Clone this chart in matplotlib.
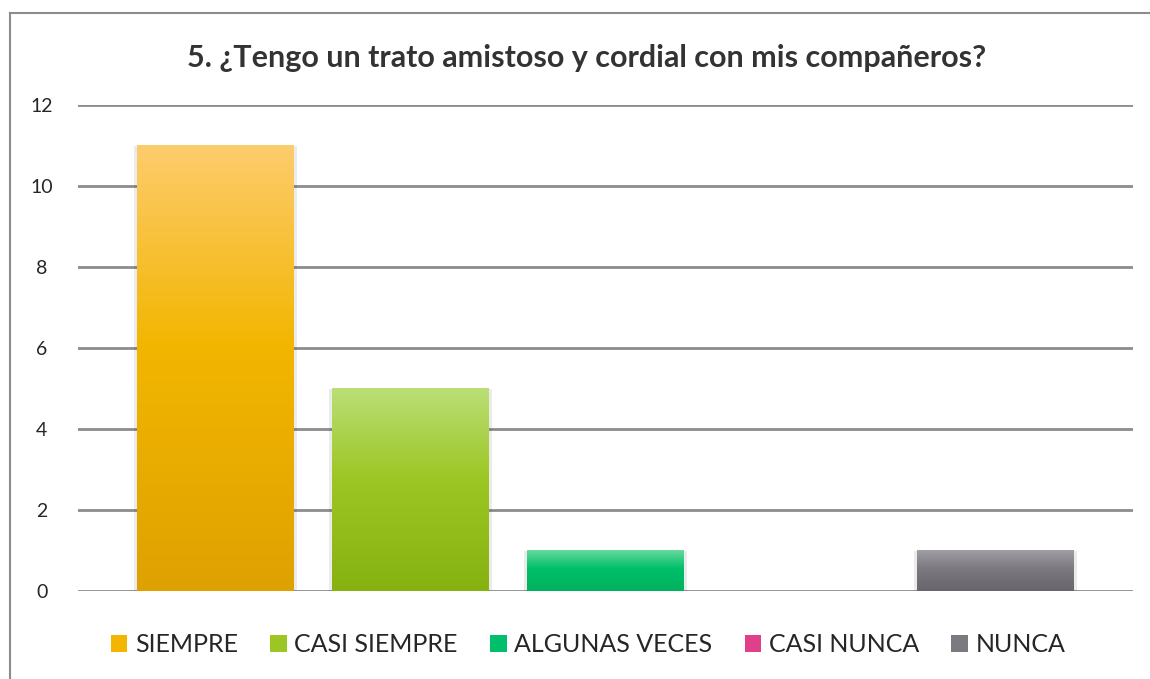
import numpy as np
import matplotlib.pyplot as plt
from matplotlib.colors import LinearSegmentedColormap
from matplotlib.lines import Line2D
from matplotlib.patches import Patch

# Data
title = "5. ¿Tengo un trato amistoso y cordial con mis compañeros?"
series_names = ["SIEMPRE", "CASI SIEMPRE", "ALGUNAS VECES", "CASI NUNCA", "NUNCA"]
values = [11, 5, 1, 0, 1]
y_ticks = [0, 2, 4, 6, 8, 10, 12]

# gradient stops per series: top, middle, bottom
gradients = [
    ["#FDCC6D", "#F2B600", "#DFA100"],
    ["#BADF76", "#9CC623", "#86B211"],
    ["#66DA9C", "#00BF6A", "#00B25D"],
    ["#F27AB0", "#E0408A", "#CF206F"],
    ["#A09EA4", "#7C7A80", "#67656B"],
]
legend_colors = ["#F2B600", "#9CC623", "#00BF6A", "#E0408A", "#7C7A80"]

plt.rcParams["font.family"] = ["Lato", "DejaVu Sans"]

fig = plt.figure(figsize=(11.5, 6.79), dpi=100)
ax = fig.add_axes([78 / 1150, 1 - 591 / 679, (1133 - 78) / 1150, (591 - 105) / 679])

x = np.arange(len(values))
width = 0.805
bars = ax.bar(x, values, width=width, color="none", zorder=3)

# gradient fill for each bar
for bar, stops in zip(bars, gradients):
    h = bar.get_height()
    if h <= 0:
        continue
    cmap = LinearSegmentedColormap.from_list("g", [(0, stops[0]), (0.45, stops[1]), (1, stops[2])])
    grad = np.linspace(0, 1, 256).reshape(-1, 1)
    x0 = bar.get_x()
    # soft shadow
    ax.bar(x0 + bar.get_width() / 2, h, width=bar.get_width() + 0.03,
           color="#000000", alpha=0.08, zorder=2)
    ax.imshow(grad, cmap=cmap, aspect="auto", zorder=3,
              extent=[x0, x0 + bar.get_width(), 0, h], origin="upper")

ax.set_xlim(-0.705, 4.705)
ax.set_ylim(0, 12)
ax.set_yticks(y_ticks)
ax.set_xticks([])
ax.yaxis.grid(True, color="#8C8C8C", linewidth=2, zorder=1)
ax.set_axisbelow(True)
for s in ax.spines.values():
    s.set_visible(False)
ax.tick_params(axis="y", length=0, pad=26, labelsize=14, labelcolor="#262626")
for lbl in ax.get_yticklabels():
    lbl.set_horizontalalignment("center")

fig.text(587 / 1150, 1 - 58 / 679, title, ha="center", va="center",
         fontsize=22, fontweight="bold", color="#333333")

handles = [Patch(facecolor=c, edgecolor="none") for c in legend_colors]
fig.legend(handles, series_names, loc="center", bbox_to_anchor=(588 / 1150, 1 - 645 / 679),
           ncol=5, frameon=False, fontsize=18, handlelength=0.66, handleheight=0.66,
           handletextpad=0.3, columnspacing=1.3, labelcolor="#262626")

# outer chart border (top and left edges visible)
fig.add_artist(Line2D([10 / 1150, 1], [1 - 13 / 679, 1 - 13 / 679],
                      transform=fig.transFigure, color="#8C8C8C", linewidth=1.5))
fig.add_artist(Line2D([10 / 1150, 10 / 1150], [0, 1 - 13 / 679],
                      transform=fig.transFigure, color="#8C8C8C", linewidth=1.5))

fig.savefig("out.png", dpi=100)
